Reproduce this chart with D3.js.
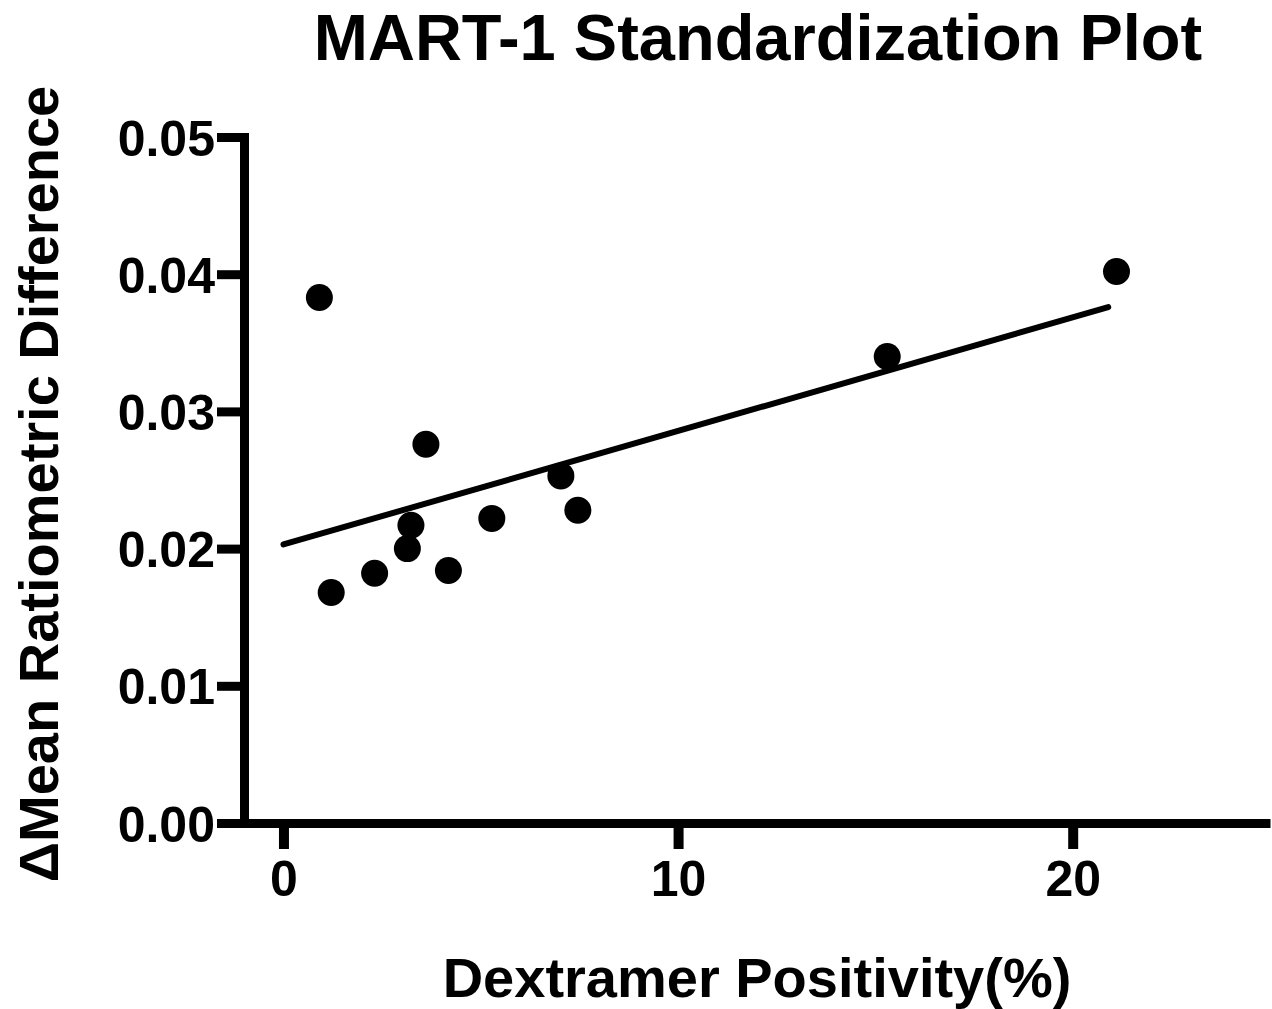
<!DOCTYPE html>
<html lang="en">
    <head>
        <meta charset="utf-8">
        <title>MART-1 Standardization Plot</title>
        <script src="https://d3js.org/d3.v7.min.js"></script>
        <style type="text/css">
            body { margin: 0; background: #fff; }
            text { font-family: "Liberation Sans", Arial, sans-serif; font-weight: bold; fill: #000; }
        </style>
    </head>
    <body>
        <script type="text/javascript">

            const svgW = 1272;
            const svgH = 1009;

            // data
            const positivity = [0.91, 3.61, 7.03, 7.46, 5.28, 3.23, 3.14, 2.31, 4.18, 1.21, 15.30, 21.11];
            const ratioDiff  = [0.0383, 0.0276, 0.0253, 0.0228, 0.0222, 0.0217, 0.0200, 0.0182, 0.0184, 0.0168, 0.0340, 0.0402];

            // fitted line endpoints
            const fitX = [0, 20.9];
            const fitY = [0.0203, 0.0376];

            const xTicks = [0, 10, 20];
            const yTicks = [0, 0.01, 0.02, 0.03, 0.04, 0.05];

            const points = positivity.map((d, i) => [d, ratioDiff[i]]);
            const fit = fitX.map((d, i) => [d, fitY[i]]);

            const xScale = d3.scaleLinear()
                             .domain([-1, 25])
                             .range([244, 1270]);

            const yScale = d3.scaleLinear()
                             .domain([0, 0.05])
                             .range([823, 137]);

            const svg = d3.select("body")
                    .append("svg")
                    .attr("width", svgW)
                    .attr("height", svgH);

            // y axis
            const leftAxis = d3.axisLeft(yScale)
                             .tickValues(yTicks)
                             .tickFormat(d3.format(".2f"))
                             .tickSize(27)
                             .tickSizeOuter(0)
                             .tickPadding(2);

            const gy = svg.append("g")
                 .attr("transform", "translate(244,0)")
                 .call(leftAxis);
            gy.select(".domain").attr("stroke-width", 9).attr("stroke-linecap", "square");
            gy.selectAll(".tick line").attr("stroke-width", 9);
            gy.selectAll(".tick text")
                .attr("font-size", 50)
                .attr("font-family", null)
                .attr("dy", "0.36em");

            // x axis
            const bottomAxis = d3.axisBottom(xScale)
                                .tickValues(xTicks)
                                .tickSize(26)
                                .tickSizeOuter(0)
                                .tickPadding(11);

            const gx = svg.append("g")
                .attr("transform", "translate(0,823)")
                .call(bottomAxis);
            gx.select(".domain").attr("stroke-width", 9);
            gx.selectAll(".tick line").attr("stroke-width", 10);
            gx.selectAll(".tick text")
                .attr("font-size", 50)
                .attr("font-family", null)
                .attr("dy", "0.71em");

            // regression line
            svg.append("path")
               .datum(fit)
               .attr("d", d3.line().x(d => xScale(d[0])).y(d => yScale(d[1])))
               .attr("fill", "none")
               .attr("stroke", "#000")
               .attr("stroke-width", 6)
               .attr("stroke-linecap", "round");

            svg.selectAll("circle")
               .data(points)
               .enter()
               .append("circle")
               .attr("cx", d => xScale(d[0]))
               .attr("cy", d => yScale(d[1]))
               .attr("r", 13.5)
               .attr("fill", "#000");

            // titles
            svg.append("text")
               .attr("x", 758)
               .attr("y", 60)
               .attr("text-anchor", "middle")
               .attr("font-size", 65)
               .text("MART-1 Standardization Plot");

            svg.append("text")
               .attr("x", 757)
               .attr("y", 997)
               .attr("text-anchor", "middle")
               .attr("font-size", 56)
               .text("Dextramer Positivity(%)");

            svg.append("text")
               .attr("transform", "translate(58,484) rotate(-90)")
               .attr("text-anchor", "middle")
               .attr("font-size", 56)
               .text("ΔMean Ratiometric Difference");

        </script>
    </body>
</html>
